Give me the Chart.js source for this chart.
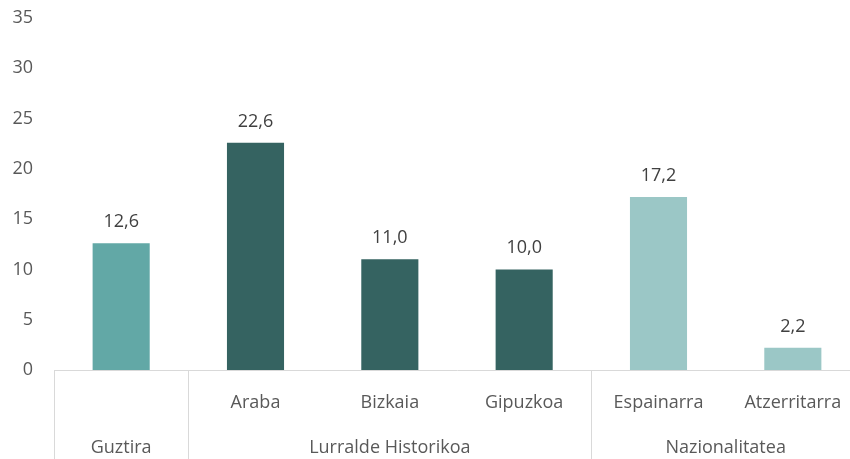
<!DOCTYPE html>
<html><head><meta charset="utf-8">
<script src="https://cdn.jsdelivr.net/npm/chart.js@4/dist/chart.umd.min.js"></script>
<style>html,body{margin:0;padding:0;overflow:hidden;background:#fff}#wrap{width:860px;height:459px;position:relative}</style>
</head><body><div id="wrap"><canvas id="c"></canvas></div>
<script>
const categories = ['Guztira','Araba','Bizkaia','Gipuzkoa','Espainarra','Atzerritarra'];
const subLabels = ['','Araba','Bizkaia','Gipuzkoa','Espainarra','Atzerritarra'];
const groupLabels = ['Guztira','Lurralde Historikoa','Nazionalitatea'];
const groupSizes = [1,3,2];
const values = [12.6,22.6,11.0,10.0,17.2,2.2];
const yTicks = [0,5,10,15,20,25,30,35];
const barColors = ['#62a8a6','#356361','#356361','#356361','#9bc7c6','#9bc7c6'];

const FONT = '"Open Sans", sans-serif';
const TXT = '#595959';

const labelsPlugin = {
  id: 'labelsPlugin',
  afterDraw(chart) {
    const ctx = chart.ctx;
    const x = chart.scales.x;
    const area = chart.chartArea;
    const n = categories.length;
    const catW = (x.getPixelForValue(n - 1) - x.getPixelForValue(0)) / (n - 1);
    const left = x.getPixelForValue(0) - catW / 2;
    ctx.save();
    const meta = chart.getDatasetMeta(0);
    ctx.font = '18px ' + FONT;
    ctx.fillStyle = '#404040';
    ctx.textAlign = 'center';
    ctx.textBaseline = 'alphabetic';
    meta.data.forEach((bar, i) => {
      ctx.fillText(values[i].toFixed(1).replace('.', ','), bar.x, bar.y - 16);
    });
    ctx.fillStyle = TXT;
    subLabels.forEach((s, i) => {
      if (s) ctx.fillText(s, x.getPixelForValue(i), 408);
    });
    ctx.strokeStyle = '#d9d9d9';
    ctx.lineWidth = 1;
    let start = 0;
    groupSizes.forEach((sz, g) => {
      const x0 = left + start * catW;
      const x1 = left + (start + sz) * catW;
      ctx.beginPath();
      ctx.moveTo(Math.round(x0) + 0.5, area.bottom);
      ctx.lineTo(Math.round(x0) + 0.5, chart.height);
      ctx.stroke();
      ctx.fillText(groupLabels[g], (x0 + x1) / 2, 453);
      start += sz;
    });
    ctx.restore();
  }
};

new Chart(document.getElementById('c'), {
  type: 'bar',
  data: {
    labels: categories,
    datasets: [{
      data: values,
      backgroundColor: barColors,
      categoryPercentage: 1,
      barPercentage: 0.425
    }]
  },
  options: {
    responsive: true,
    maintainAspectRatio: false,
    animation: false,
    layout: { padding: { top: 18, right: 0, bottom: 0, left: 0 } },
    plugins: { legend: { display: false }, tooltip: { enabled: false } },
    scales: {
      x: {
        grid: { display: false, drawTicks: false },
        border: { display: true, color: '#d9d9d9', width: 1 },
        ticks: { display: false },
        afterFit(s) { s.height = 89; s.paddingLeft = 0; s.paddingRight = 0; }
      },
      y: {
        min: 0, max: 35,
        afterBuildTicks(s) { s.ticks = yTicks.map(v => ({ value: v })); },
        grid: { display: false, drawTicks: false },
        border: { display: false },
        ticks: { padding: 21, color: TXT, font: { family: FONT, size: 18 } },
        afterFit(s) { s.width = 54; s.paddingTop = 0; s.paddingBottom = 0; }
      }
    }
  },
  plugins: [labelsPlugin]
});
</script></body></html>
